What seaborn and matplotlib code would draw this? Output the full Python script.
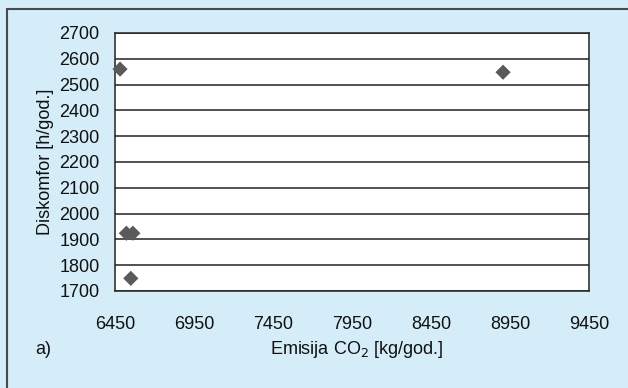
import matplotlib
matplotlib.use("Agg")
import matplotlib.pyplot as plt
import seaborn as sns
import pandas as pd
from matplotlib.patches import Rectangle

# data
emisija = [6482, 8906, 6522, 6563, 6550]
diskomfor = [2560, 2548, 1924, 1924, 1749]
x_ticks = [6450, 6950, 7450, 7950, 8450, 8950, 9450]
y_ticks = list(range(1700, 2701, 100))

df = pd.DataFrame({"emisija": emisija, "diskomfor": diskomfor})

sns.set_theme(style="white")
plt.rcParams["font.family"] = ["Liberation Sans Narrow", "Liberation Sans", "DejaVu Sans"]

bg = "#d4edf9"
fs = 13
fig = plt.figure(figsize=(6.28, 3.88), dpi=100, facecolor=bg)
ax = fig.add_axes([115 / 628, 1 - 291 / 388, 474 / 628, 258 / 388])
ax.set_facecolor("white")

# outer frame, only left and top edges fall inside the image
fig.patches.append(Rectangle((7 / 628, -1), 3, 2 - 9 / 388,
                             transform=fig.transFigure, fill=False,
                             edgecolor="#4a4a4a", linewidth=1.5, zorder=0))

sns.scatterplot(data=df, x="emisija", y="diskomfor", marker="D", s=60,
                color="#5a5a5a", edgecolor="none", ax=ax, zorder=3, clip_on=False)

ax.set_xlim(6450, 9450)
ax.set_ylim(1700, 2700)
ax.set_xticks(x_ticks)
ax.set_yticks(y_ticks)
ax.tick_params(axis="both", length=0, labelsize=fs, colors="#111111")
ax.tick_params(axis="x", pad=18)
ax.tick_params(axis="y", pad=11)

ax.yaxis.grid(True, color="#222222", linewidth=1.1)
ax.xaxis.grid(False)
for side in ax.spines.values():
    side.set_color("#222222")
    side.set_linewidth(1.1)

ax.set_xlabel("")
ax.set_ylabel("Diskomfor [h/god.]", fontsize=fs, color="#111111", labelpad=4)
fig.text(357 / 628, 1 - 350 / 388, "Emisija CO$_2$ [kg/god.]", ha="center",
         va="center", fontsize=fs, color="#111111")
fig.text(43 / 628, 1 - 350 / 388, "a)", ha="center", va="center",
         fontsize=fs, color="#111111")

plt.savefig("out.png", dpi=100, facecolor=bg)
